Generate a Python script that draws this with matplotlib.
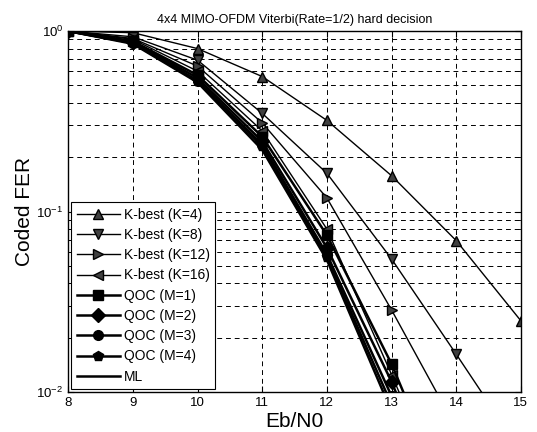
import numpy as np
import matplotlib
matplotlib.use("Agg")
import matplotlib.pyplot as plt
from matplotlib.ticker import LogLocator, NullLocator, FixedLocator

plt.rcParams['font.family'] = ['Liberation Sans', 'DejaVu Sans']

# Eb/N0 points (dB)
ebn0 = [8, 9, 10, 11, 12, 13, 14, 15]

# coded FER (tail values fall below the axis)
fer_k4 = [1.0, 0.98, 0.80, 0.56, 0.32, 0.158, 0.069, 0.0248]
fer_k8 = [1.0, 0.93, 0.69, 0.35, 0.163, 0.0546, 0.0162, 0.0047]
fer_k12 = [1.0, 0.91, 0.64, 0.31, 0.119, 0.0285, 0.0063, 0.0012]
fer_k16 = [1.0, 0.90, 0.60, 0.28, 0.080, 0.0125, 0.0018, 0.0003]
fer_qoc1 = [1.0, 0.88, 0.57, 0.26, 0.074, 0.0143, 0.0020, 0.0003]
fer_qoc2 = [1.0, 0.87, 0.55, 0.245, 0.063, 0.0114, 0.0015, 0.0002]
fer_qoc3 = [1.0, 0.86, 0.53, 0.235, 0.058, 0.0095, 0.0012, 0.0002]
fer_qoc4 = [1.0, 0.86, 0.53, 0.23, 0.056, 0.0085, 0.0010, 0.0001]
fer_ml = [1.0, 0.85, 0.52, 0.22, 0.054, 0.0078, 0.0009, 0.0001]

labels = ['K-best (K=4)', 'K-best (K=8)', 'K-best (K=12)', 'K-best (K=16)',
          'QOC (M=1)', 'QOC (M=2)', 'QOC (M=3)', 'QOC (M=4)', 'ML']

fig = plt.figure(figsize=(5.37, 4.32), dpi=100)
ax = fig.add_axes([0.127, 0.0926, 0.843, 0.8354])

kbest_style = dict(color='black', lw=1.0, markersize=7,
                   markerfacecolor='#404040', markeredgecolor='black')
qoc_style = dict(color='black', lw=1.8, markersize=7,
                 markerfacecolor='black', markeredgecolor='black')

ax.semilogy(ebn0, fer_k4, marker='^', label=labels[0], **kbest_style)
ax.semilogy(ebn0, fer_k8, marker='v', label=labels[1], **kbest_style)
ax.semilogy(ebn0, fer_k12, marker='>', label=labels[2], **kbest_style)
ax.semilogy(ebn0, fer_k16, marker='<', label=labels[3], **kbest_style)
ax.semilogy(ebn0, fer_qoc1, marker='s', label=labels[4], **qoc_style)
ax.semilogy(ebn0, fer_qoc2, marker='D', label=labels[5], **qoc_style)
ax.semilogy(ebn0, fer_qoc3, marker='o', label=labels[6], **qoc_style)
ax.semilogy(ebn0, fer_qoc4, marker='p', label=labels[7], **qoc_style)
ax.semilogy(ebn0, fer_ml, label=labels[8], color='black', lw=1.8)

ax.set_xlim(8, 15)
ax.set_ylim(1e-2, 1e0)
ax.xaxis.set_major_locator(FixedLocator(ebn0))
ax.xaxis.set_minor_locator(NullLocator())
ax.yaxis.set_major_locator(LogLocator(base=10, numticks=5))
ax.yaxis.set_minor_locator(LogLocator(base=10, subs=np.arange(2, 10), numticks=20))

# MATLAB-like dashed grid, with minor lines on the log axis
ax.grid(which='major', linestyle=(0, (5, 4)), color='black', lw=0.7)
ax.grid(which='minor', axis='y', linestyle=(0, (5, 4)), color='black', lw=0.7)
ax.set_axisbelow(True)

ax.tick_params(which='both', direction='in', top=True, right=True, labelsize=9.5)
ax.tick_params(which='major', length=4)
ax.tick_params(which='minor', length=2.5)
for sp in ax.spines.values():
    sp.set_linewidth(1.0)

ax.set_title('4x4 MIMO-OFDM Viterbi(Rate=1/2) hard decision', fontsize=9, pad=6)
ax.set_xlabel('Eb/N0', fontsize=15, labelpad=2)
ax.set_ylabel('Coded FER', fontsize=15, labelpad=2)

leg = ax.legend(loc='lower left', fontsize=10, handlelength=3.1,
                labelspacing=0.45, borderaxespad=0.2, fancybox=False,
                edgecolor='black', framealpha=1.0, handletextpad=0.3,
                borderpad=0.4)
leg.get_frame().set_linewidth(0.8)

fig.savefig('out.png', dpi=100)
